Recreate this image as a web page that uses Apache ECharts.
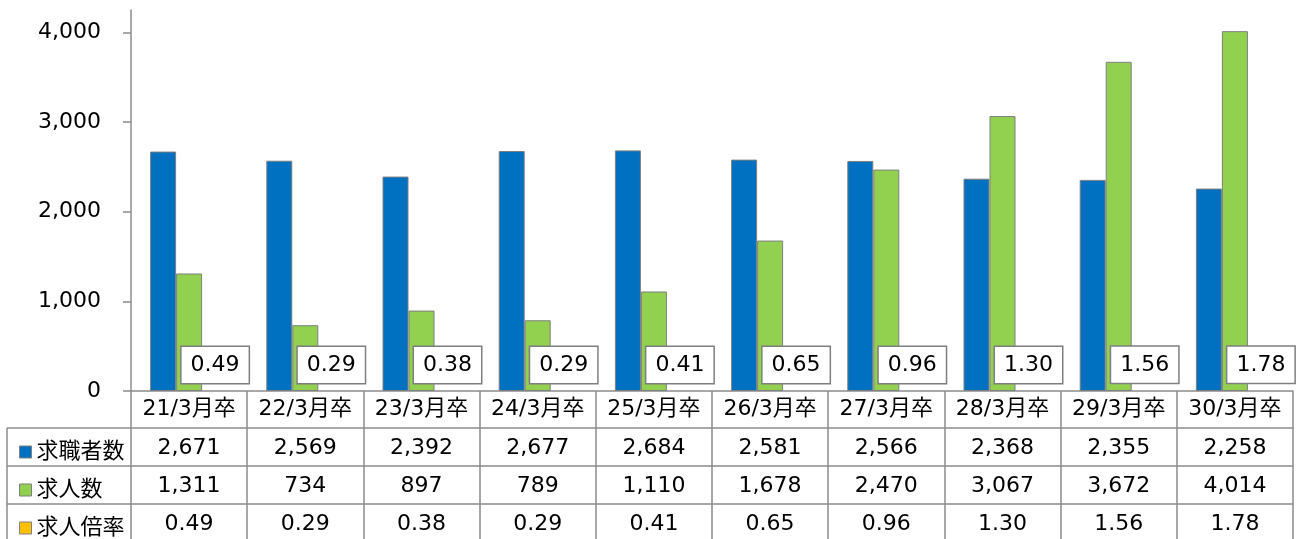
<!DOCTYPE html>
<html>
<head>
<meta charset="utf-8">
<script src="https://cdn.jsdelivr.net/npm/echarts@6/dist/echarts.min.js"></script>
<style>
  html, body { margin: 0; padding: 0; background: #fff; }
  #main { width: 1300px; height: 539px; }
</style>
</head>
<body>
<div id="main"></div>
<script>
// 卒業年ごとのカテゴリ
const categories = ['21/3月卒', '22/3月卒', '23/3月卒', '24/3月卒', '25/3月卒',
  '26/3月卒', '27/3月卒', '28/3月卒', '29/3月卒', '30/3月卒'];
// 求職者数
const seekers = [2671, 2569, 2392, 2677, 2684, 2581, 2566, 2368, 2355, 2258];
// 求人数
const openings = [1311, 734, 897, 789, 1110, 1678, 2470, 3067, 3672, 4014];
// 求人倍率
const ratio = [0.49, 0.29, 0.38, 0.29, 0.41, 0.65, 0.96, 1.30, 1.56, 1.78];
const yTicks = [0, 1000, 2000, 3000, 4000];
const seriesNames = ['求職者数', '求人数', '求人倍率'];
const colors = ['#0070C0', '#92D050', '#FFC000'];

const FONT = 'DejaVu Sans, Noto Sans CJK JP, sans-serif';
const LINE = '#8c8c8c';
const GRID_LEFT = 131;
const GRID_RIGHT = 7;
const GRID_BOTTOM = 148;
const ROWS = [37, 75, 113];  // 表の各行の上端（x軸からの距離）
const ROW_H = 38;

function fmtInt(v) {
  return v.toLocaleString('en-US');
}

const rowValues = [
  seekers.map(fmtInt),
  openings.map(fmtInt),
  ratio.map(v => v.toFixed(2))
];

const chart = echarts.init(document.getElementById('main'), null, { renderer: 'canvas' });

const axisY0 = 539 - GRID_BOTTOM;

// 表のデータ行はx軸を下にずらして描く
const tableAxes = rowValues.map((vals, i) => ({
  type: 'category',
  gridIndex: 0,
  position: 'bottom',
  offset: ROWS[i],
  data: vals,
  axisLine: { show: true, lineStyle: { color: LINE, width: 1.5 } },
  axisTick: { show: false },
  axisLabel: { color: '#000', fontSize: 22, fontFamily: FONT, margin: 9, interval: 0 }
}));

// 凡例は行ごとに1つずつ置く
const legends = seriesNames.map((n, i) => ({
  orient: 'vertical',
  left: 14,
  top: axisY0 + ROWS[i] + (ROW_H - 22) / 2,
  itemWidth: 12,
  itemHeight: 12,
  icon: 'rect',
  selectedMode: false,
  textStyle: { color: '#000', fontSize: 22, fontFamily: FONT },
  data: [{
    name: n,
    itemStyle: { color: colors[i], borderColor: '#7f7f7f', borderWidth: 1 }
  }]
}));

// 左の凡例列の罫線
const legendLines = [];
ROWS.forEach(r => {
  legendLines.push({
    type: 'line',
    shape: { x1: 7, y1: axisY0 + r, x2: GRID_LEFT, y2: axisY0 + r },
    style: { stroke: LINE, lineWidth: 1.5 }
  });
});
legendLines.push({
  type: 'line',
  shape: { x1: 7, y1: axisY0 + ROWS[0], x2: 7, y2: 545 },
  style: { stroke: LINE, lineWidth: 1.5 }
});

const option = {
  backgroundColor: '#ffffff',
  animation: false,
  textStyle: { fontFamily: FONT },
  grid: {
    left: GRID_LEFT,
    right: GRID_RIGHT,
    top: 10,
    bottom: GRID_BOTTOM,
    containLabel: false,
    outerBoundsMode: 'none'
  },
  legend: legends,
  xAxis: [{
    type: 'category',
    gridIndex: 0,
    position: 'bottom',
    data: categories,
    axisLine: { show: true, lineStyle: { color: LINE, width: 1.5 } },
    axisTick: { show: true, length: 152, lineStyle: { color: LINE, width: 1.5 } },
    axisLabel: { color: '#000', fontSize: 22, fontFamily: FONT, margin: 7, interval: 0 }
  }].concat(tableAxes),
  yAxis: {
    type: 'value',
    min: 0,
    max: 4250,
    interval: 1000,
    splitLine: { show: false },
    axisLine: { show: true, lineStyle: { color: LINE, width: 1.5 } },
    axisTick: { show: true, length: 8, customValues: yTicks, lineStyle: { color: LINE, width: 1.5 } },
    axisLabel: {
      color: '#000', fontSize: 22, fontFamily: FONT, margin: 30,
      customValues: yTicks,
      formatter: v => fmtInt(v)
    }
  },
  series: [{
    name: seriesNames[0],
    type: 'bar',
    xAxisIndex: 0,
    barWidth: 26,
    barGap: '0%',
    data: seekers,
    itemStyle: { color: colors[0], borderColor: '#7f7f7f', borderWidth: 1 }
  }, {
    name: seriesNames[1],
    type: 'bar',
    xAxisIndex: 0,
    barWidth: 26,
    barGap: '0%',
    data: openings,
    itemStyle: { color: colors[1], borderColor: '#7f7f7f', borderWidth: 1 }
  }, {
    name: seriesNames[2],
    type: 'bar',
    xAxisIndex: 0,
    barWidth: 26,
    barGap: '0%',
    data: ratio,
    itemStyle: { color: 'rgba(0,0,0,0)', borderWidth: 0 },
    label: {
      show: true,
      position: 'top',
      distance: 8,
      color: '#000',
      fontSize: 22,
      fontFamily: FONT,
      backgroundColor: '#fff',
      borderColor: '#7f7f7f',
      borderWidth: 1.5,
      padding: [7, 9, 7, 9],
      formatter: p => p.value.toFixed(2)
    }
  }],
  graphic: legendLines
};

chart.setOption(option);
</script>
</body>
</html>
